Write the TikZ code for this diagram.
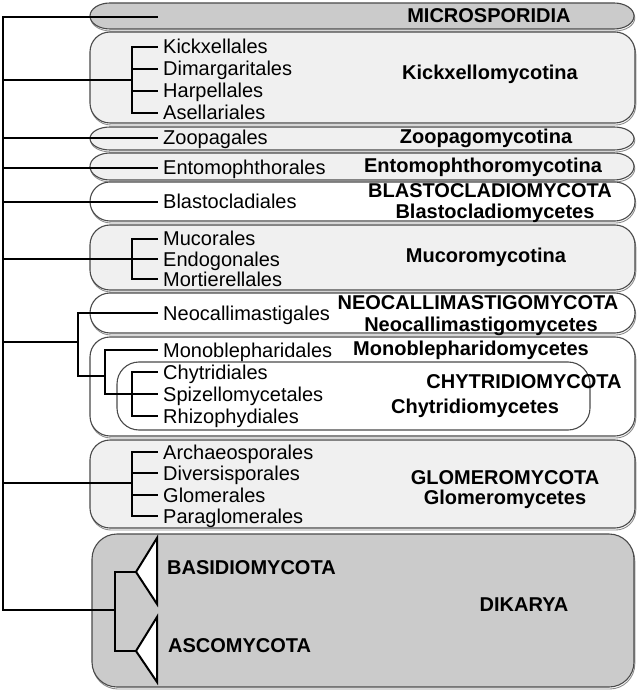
\documentclass[tikz,border=0pt]{standalone}
\usepackage{fontspec}
\setmainfont{Liberation Sans}
\definecolor{darkfill}{HTML}{CBCBCB}
\definecolor{lightfill}{HTML}{F0F0F0}
\definecolor{boxedge}{HTML}{4A4A4A}
\newcommand\cladepath[6]{(#1+#5,#2) -- (#3-#5,#2)
   arc[start angle=-90, end angle=0, x radius=#5, y radius=#6] -- (#3,#4-#6)
   arc[start angle=0, end angle=90, x radius=#5, y radius=#6] -- (#1+#5,#4)
   arc[start angle=90, end angle=180, x radius=#5, y radius=#6] -- (#1,#2+#6)
   arc[start angle=180, end angle=270, x radius=#5, y radius=#6] -- cycle}
\newcommand\cladebox[7]{%
 \draw[boxshadow, shift={(0.8,2)}] \cladepath{#1}{#2}{#3}{#4}{#5}{#6};
 \draw[boxstyle, fill=#7] \cladepath{#1}{#2}{#3}{#4}{#5}{#6};}
\tikzset{
  boxstyle/.style={draw=boxedge, line width=1.1pt},
  boxshadow/.style={draw=black!45, line width=0.9pt},
  tree/.style={draw=black, line width=2pt, line cap=rect},
  tri/.style={draw=black, fill=white, line width=2pt, line join=miter},
  leaf/.style={anchor=west, inner xsep=6pt, inner ysep=0pt, text height=14pt, text depth=0pt, font=\fontsize{20}{22}\selectfont},
  taxon/.style={inner sep=0pt, text height=14pt, text depth=0pt, font=\fontsize{20}{22}\selectfont\bfseries},
}
\begin{document}
\begin{tikzpicture}[x=1pt, y=-1pt]
\useasboundingbox (0,0) rectangle (638,692);
% clade boxes
\cladebox{90}{3}{634}{29}{20}{13}{darkfill}
\cladebox{90}{32}{635}{123}{20}{20}{lightfill}
\cladebox{90}{127}{634}{150}{20}{11.5}{lightfill}
\cladebox{90}{153}{634}{180}{20}{13.5}{lightfill}
\cladebox{90}{182}{635}{221}{20}{19.5}{white}
\cladebox{90}{225}{635}{290}{20}{20}{lightfill}
\cladebox{90}{293}{635}{333}{20}{20}{white}
\cladebox{90}{337}{635}{436}{20}{20}{white}
\draw[boxstyle, fill=white] \cladepath{117}{362}{590}{430}{22}{22};
\cladebox{90}{440}{635}{528}{20}{20}{lightfill}
\cladebox{92}{534}{634}{687}{25}{25}{darkfill}

% leaves
\node[leaf] (k1) at (157,47) {Kickxellales};
\node[leaf] (k2) at (157,69) {Dimargaritales};
\node[leaf] (k3) at (157,91) {Harpellales};
\node[leaf] (k4) at (157,113) {Asellariales};
\node[leaf] (zoo) at (157,138) {Zoopagales};
\node[leaf] (ent) at (157,168) {Entomophthorales};
\node[leaf] (bla) at (157,202) {Blastocladiales};
\node[leaf] (m1) at (157,239) {Mucorales};
\node[leaf] (m2) at (157,259) {Endogonales};
\node[leaf] (m3) at (157,279) {Mortierellales};
\node[leaf] (neo) at (157,313) {Neocallimastigales};
\node[leaf] (mono) at (157,350) {Monoblepharidales};
\node[leaf] (c1) at (157,372) {Chytridiales};
\node[leaf] (c2) at (157,394) {Spizellomycetales};
\node[leaf] (c3) at (157,416) {Rhizophydiales};
\node[leaf] (g1) at (157,452) {Archaeosporales};
\node[leaf] (g2) at (157,473) {Diversisporales};
\node[leaf] (g3) at (157,495) {Glomerales};
\node[leaf] (g4) at (157,516) {Paraglomerales};

% taxon labels
\node[taxon] (tMic) at (489,16) {MICROSPORIDIA};
\node[taxon] (tKic) at (490,73) {Kickxellomycotina};
\node[taxon] (tZoo) at (486,137) {Zoopagomycotina};
\node[taxon] (tEnt) at (483,166) {Entomophthoromycotina};
\node[taxon] (tBla1) at (490,191) {BLASTOCLADIOMYCOTA};
\node[taxon] (tBla2) at (495,212) {Blastocladiomycetes};
\node[taxon] (tMuc) at (486,255) {Mucoromycotina};
\node[taxon] (tNeo1) at (478,302) {NEOCALLIMASTIGOMYCOTA};
\node[taxon] (tNeo2) at (481,324) {Neocallimastigomycetes};
\node[taxon] (tMono) at (471,348) {Monoblepharidomycetes};
\node[taxon] (tChy1) at (524,381) {CHYTRIDIOMYCOTA};
\node[taxon] (tChy2) at (475,406) {Chytridiomycetes};
\node[taxon] (tGlo1) at (505,477) {GLOMEROMYCOTA};
\node[taxon] (tGlo2) at (505,497) {Glomeromycetes};
\node[taxon, anchor=west] (tBas) at (167,567) {BASIDIOMYCOTA};
\node[taxon, anchor=west] (tAsc) at (168,645) {ASCOMYCOTA};
\node[taxon] (tDik) at (524,604) {DIKARYA};

% tree
\coordinate (rootTop) at (3,17);
\coordinate (rootBot) at (3,610);
\coordinate (micEnd) at (157,17);
\coordinate (kJ) at (132,80);
\coordinate (mJ) at (132,259);
\coordinate (ncJ) at (78,342);
\coordinate (cA) at (78,376);
\coordinate (cB) at (105,376);
\coordinate (cC) at (105,394);
\coordinate (cD) at (132,394);
\coordinate (gJ) at (132,483);
\coordinate (dJ) at (115,610);
\coordinate (basA) at (136,572);
\coordinate (ascA) at (136,651);

\draw[tree] (rootTop) -- (rootBot);
\draw[tree] (rootTop) -- (micEnd);
% Kickxellomycotina
\draw[tree] (rootTop |- kJ) -- (kJ);
\draw[tree] (kJ |- k1.west) -- (kJ |- k4.west);
\foreach \n in {k1,k2,k3,k4} \draw[tree] (kJ |- \n.west) -- (\n.west);
% single lineages
\draw[tree] (rootTop |- zoo.west) -- (zoo.west);
\draw[tree] (rootTop |- ent.west) -- (ent.west);
\draw[tree] (rootTop |- bla.west) -- (bla.west);
% Mucoromycotina
\draw[tree] (rootTop |- mJ) -- (mJ);
\draw[tree] (mJ |- m1.west) -- (mJ |- m3.west);
\foreach \n in {m1,m2,m3} \draw[tree] (mJ |- \n.west) -- (\n.west);
% Neocallimastigo + Chytridio
\draw[tree] (rootTop |- ncJ) -- (ncJ);
\draw[tree] (ncJ |- neo.west) -- (cA);
\draw[tree] (ncJ |- neo.west) -- (neo.west);
\draw[tree] (cA) -- (cB);
\draw[tree] (cB |- mono.west) -- (cC);
\draw[tree] (cB |- mono.west) -- (mono.west);
\draw[tree] (cC) -- (cD);
\draw[tree] (cD |- c1.west) -- (cD |- c3.west);
\foreach \n in {c1,c2,c3} \draw[tree] (cD |- \n.west) -- (\n.west);
% Glomeromycota
\draw[tree] (rootTop |- gJ) -- (gJ);
\draw[tree] (gJ |- g1.west) -- (gJ |- g4.west);
\foreach \n in {g1,g2,g3,g4} \draw[tree] (gJ |- \n.west) -- (\n.west);
% Dikarya
\draw[tree] (rootBot) -- (dJ);
\draw[tree] (dJ |- basA) -- (dJ |- ascA);
\draw[tree] (dJ |- basA) -- (basA);
\draw[tree] (dJ |- ascA) -- (ascA);
\draw[tri] (basA) -- (157,538) -- (157,604) -- cycle;
\draw[tri] (ascA) -- (157,617) -- (157,682) -- cycle;
\end{tikzpicture}
\end{document}
